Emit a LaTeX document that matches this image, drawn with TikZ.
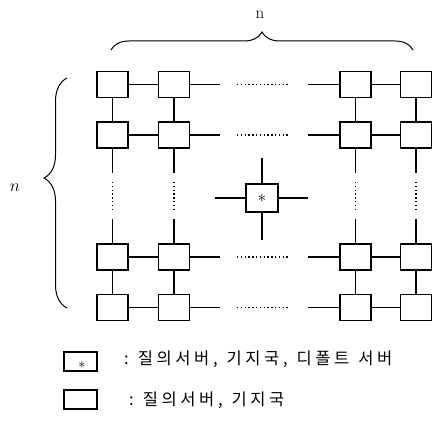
\documentclass[tikz,border=0pt]{standalone}
\usepackage{fontspec}
\newfontfamily\kr[LetterSpace=22]{Noto Sans CJK KR}
\usetikzlibrary{decorations.pathreplacing}
\newcommand{\wgap}{\hspace{9pt}}

\begin{document}
\begin{tikzpicture}[
	x=1pt, y=1pt,
	box/.style={ draw, line width=1.4pt, inner sep=0pt, minimum width=31pt, minimum height=26pt },
	link/.style={ line width=1.1pt },
	dots/.style={ line width=1.6pt, dash pattern=on 1.4pt off 2.4pt },
	brace/.style={ decorate, line width=1pt },
	legtext/.style={ anchor=west, inner sep=0pt, font=\kr\fontsize{16.5}{18}\selectfont }
]
\useasboundingbox (0,0) rectangle (433,-430);

% rows of base stations
\node at (112.5,-84.5) (v11) [box] {};
\node at (174,-84.5) (v12) [box] {};
\node at (355.5,-84.5) (v13) [box] {};
\node at (416,-84.5) (v14) [box] {};

\node at (112.5,-135) (v21) [box] {};
\node at (174,-135) (v22) [box] {};
\node at (355.5,-135) (v23) [box] {};
\node at (416,-135) (v24) [box] {};

\node at (112.5,-257) (v31) [box] {};
\node at (174,-257) (v32) [box] {};
\node at (355.5,-257) (v33) [box] {};
\node at (416,-257) (v34) [box] {};

\node at (112.5,-307.5) (v41) [box] {};
\node at (174,-307.5) (v42) [box] {};
\node at (355.5,-307.5) (v43) [box] {};
\node at (416,-307.5) (v44) [box] {};

% horizontal links
\draw[link] (v11) to (v12);
\draw[link] (v13) to (v14);
\draw[link] (v21) to (v22);
\draw[link] (v23) to (v24);
\draw[link] (v31) to (v32);
\draw[link] (v33) to (v34);
\draw[link] (v41) to (v42);
\draw[link] (v43) to (v44);

\coordinate (h1a) at (220,-84.5);  \coordinate (h1b) at (237,-84.5);
\coordinate (h1c) at (290,-84.5);  \coordinate (h1d) at (308,-84.5);
\coordinate (h2a) at (220,-135);   \coordinate (h2b) at (237,-135);
\coordinate (h2c) at (290,-135);   \coordinate (h2d) at (308,-135);
\coordinate (h3a) at (220,-257);   \coordinate (h3b) at (237,-257);
\coordinate (h3c) at (290,-257);   \coordinate (h3d) at (308,-257);
\coordinate (h4a) at (220,-307.5); \coordinate (h4b) at (237,-307.5);
\coordinate (h4c) at (290,-307.5); \coordinate (h4d) at (308,-307.5);

\draw[link] (v12) to (h1a);  \draw[dots] (h1b) to (h1c);  \draw[link] (h1d) to (v13);
\draw[link] (v22) to (h2a);  \draw[dots] (h2b) to (h2c);  \draw[link] (h2d) to (v23);
\draw[link] (v32) to (h3a);  \draw[dots] (h3b) to (h3c);  \draw[link] (h3d) to (v33);
\draw[link] (v42) to (h4a);  \draw[dots] (h4b) to (h4c);  \draw[link] (h4d) to (v43);

% vertical links
\draw[link] (v11) to (v21);
\draw[link] (v12) to (v22);
\draw[link] (v13) to (v23);
\draw[link] (v14) to (v24);
\draw[link] (v31) to (v41);
\draw[link] (v32) to (v42);
\draw[link] (v33) to (v43);
\draw[link] (v34) to (v44);

\coordinate (t1a) at (112.5,-173); \coordinate (t1b) at (112.5,-182);
\coordinate (t1c) at (112.5,-212); \coordinate (t1d) at (112.5,-219);
\coordinate (t2a) at (174,-173);   \coordinate (t2b) at (174,-182);
\coordinate (t2c) at (174,-212);   \coordinate (t2d) at (174,-219);
\coordinate (t3a) at (355.5,-173); \coordinate (t3b) at (355.5,-182);
\coordinate (t3c) at (355.5,-212); \coordinate (t3d) at (355.5,-219);
\coordinate (t4a) at (416,-173);   \coordinate (t4b) at (416,-182);
\coordinate (t4c) at (416,-212);   \coordinate (t4d) at (416,-219);

\draw[link] (v21) to (t1a);  \draw[dots] (t1b) to (t1c);  \draw[link] (t1d) to (v31);
\draw[link] (v22) to (t2a);  \draw[dots] (t2b) to (t2c);  \draw[link] (t2d) to (v32);
\draw[link] (v23) to (t3a);  \draw[dots] (t3b) to (t3c);  \draw[link] (t3d) to (v33);
\draw[link] (v24) to (t4a);  \draw[dots] (t4b) to (t4c);  \draw[link] (t4d) to (v34);

% default server in the middle
\node at (262,-198) (srv) [box, minimum width=32pt, minimum height=28pt] {\LARGE$\ast$};
\coordinate (su) at (262,-158);
\coordinate (sd) at (262,-240);
\coordinate (sl) at (215,-198);
\coordinate (sr) at (308,-198);
\draw[link] (srv) to (su);
\draw[link] (srv) to (sd);
\draw[link] (srv) to (sl);
\draw[link] (srv) to (sr);

% braces
\coordinate (bt1) at (111,-50);
\coordinate (bt2) at (413,-50);
\draw[brace, decoration={brace, amplitude=18pt}] (bt1) to (bt2);
\node at (260,-15) (nt) {\fontsize{17}{18}\selectfont n};

\coordinate (bl1) at (67,-308);
\coordinate (bl2) at (67,-78);
\draw[brace, decoration={brace, amplitude=23pt, aspect=0.565}] (bl1) to (bl2);
\node at (15,-188) (nl) {\fontsize{17}{18}\selectfont$n$};

% legend
\node at (80.5,-361.5) (k1) [box, line width=1.2pt, minimum width=33pt, minimum height=19pt] {};
\node at (82,-365) (k1s) [inner sep=0pt] {\Large$\ast$};
\node at (124,-359) (l1) [legtext] {:\wgap 질의서버,\wgap 기지국,\wgap 디폴트\wgap 서버};

\node at (80.5,-399.5) (k2) [box, line width=1.2pt, minimum width=33pt, minimum height=19pt] {};
\node at (129,-400) (l2) [legtext] {:\wgap 질의서버,\wgap 기지국};

\end{tikzpicture}
\end{document}
